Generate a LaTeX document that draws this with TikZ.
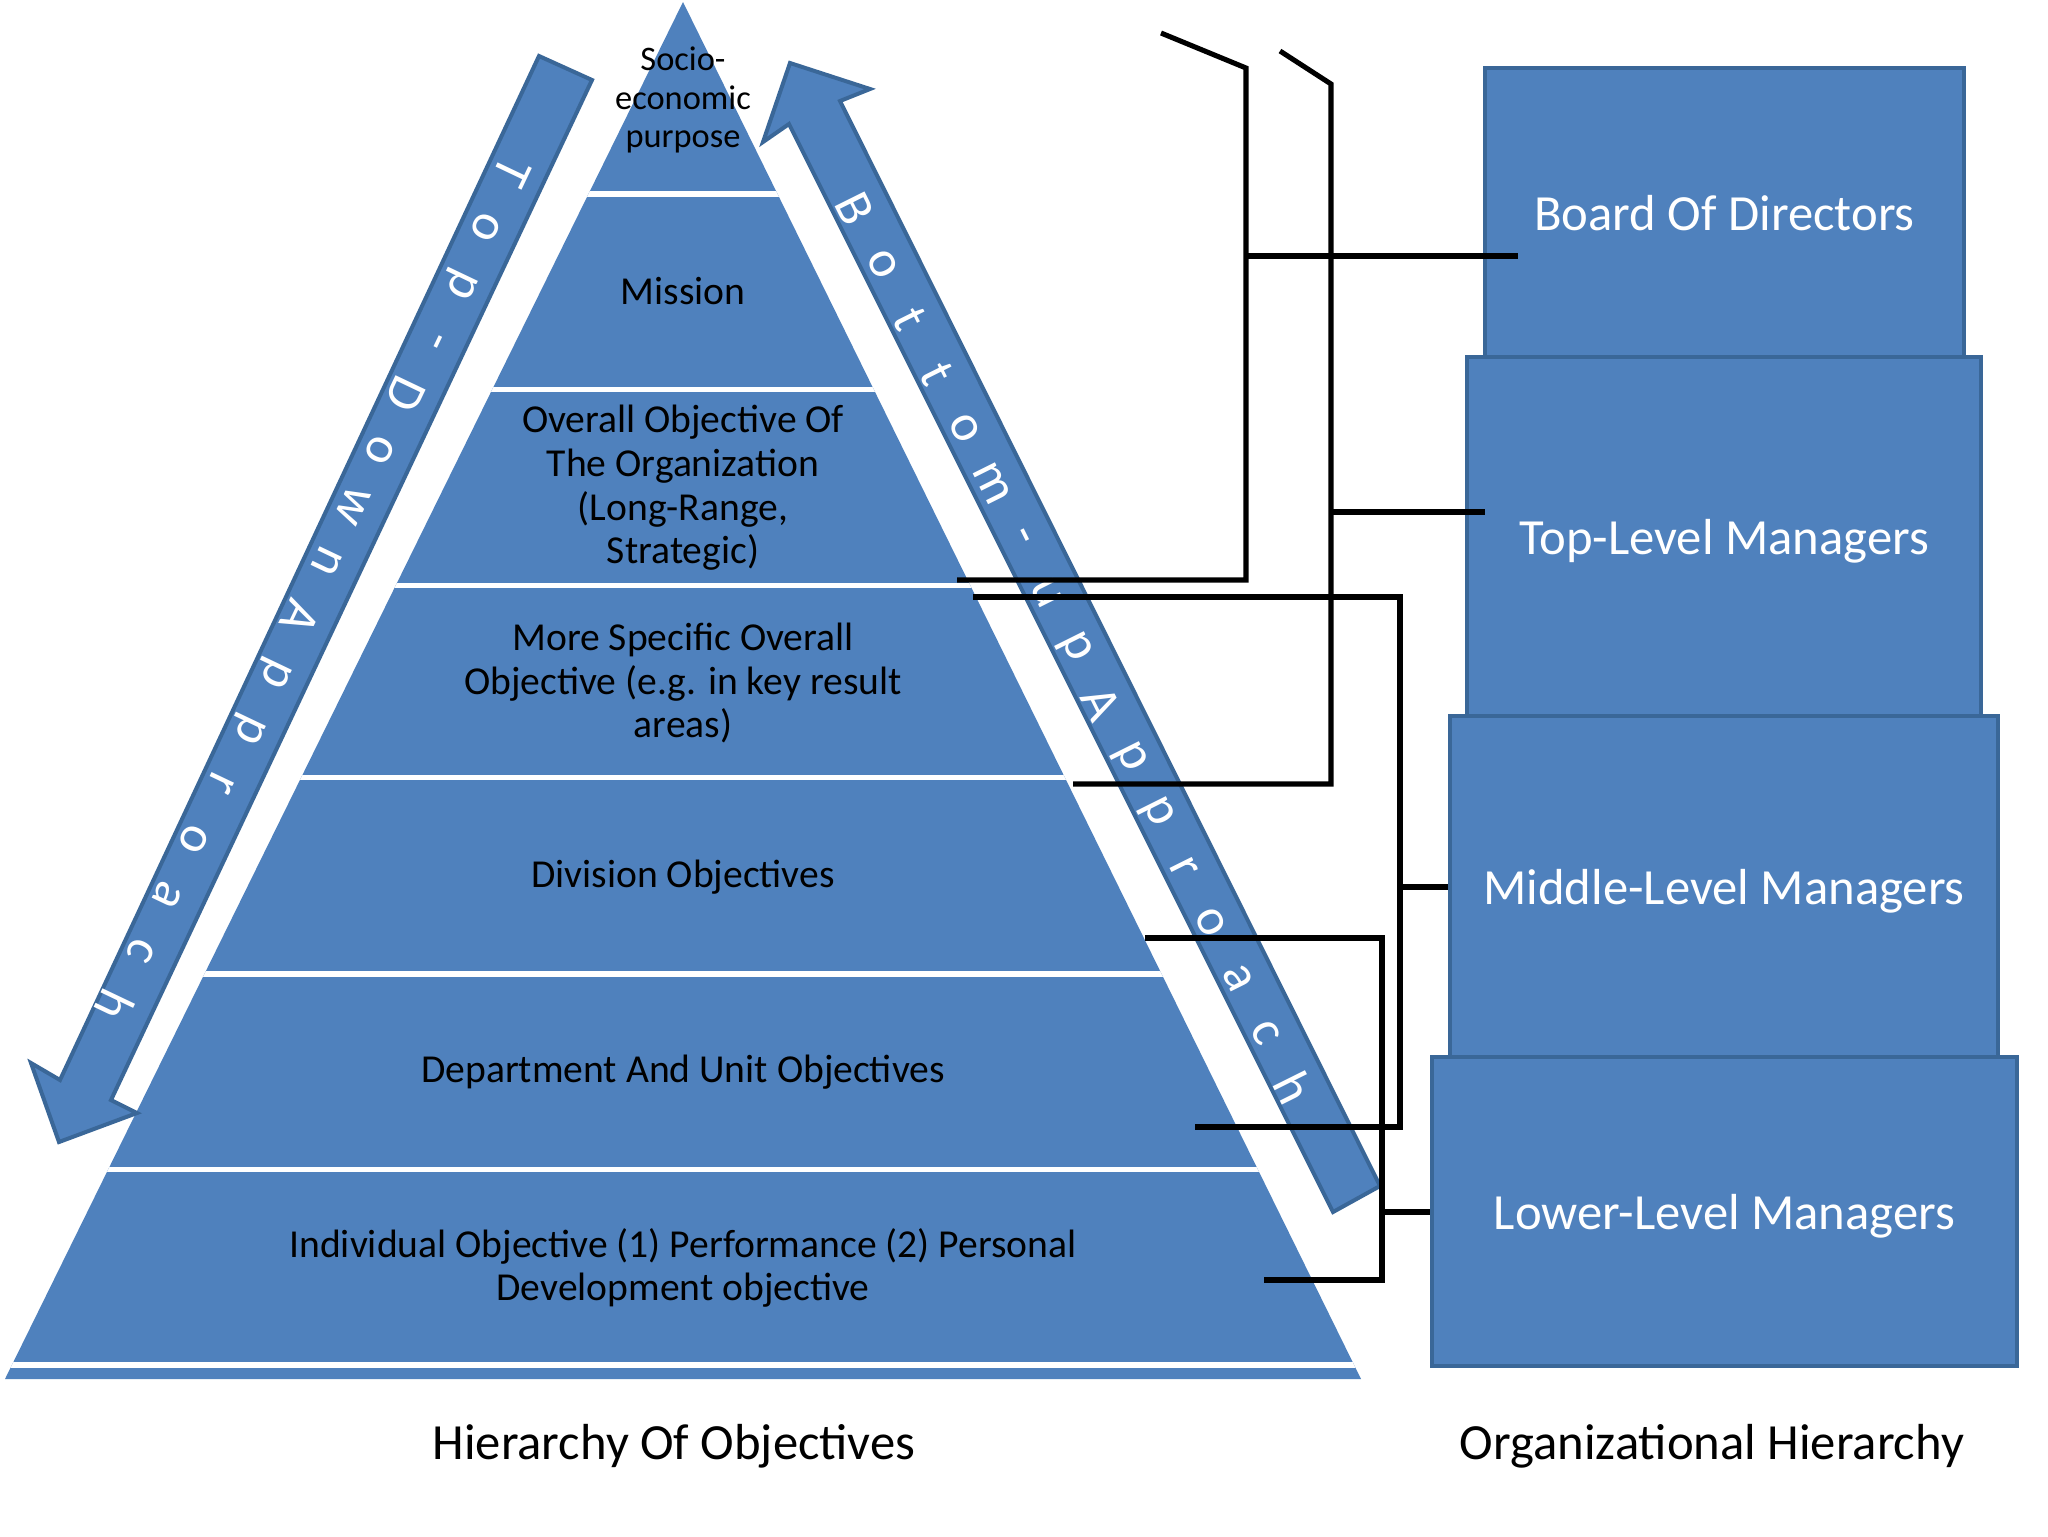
\documentclass[tikz,border=0pt]{standalone}
\usepackage{fontspec}
\setmainfont{Carlito}
\definecolor{pyr}{HTML}{4F81BD}
\definecolor{pyrdark}{HTML}{3A6798}
\begin{document}
\begin{tikzpicture}[x=0.375pt,y=-0.375pt,
  tiertext/.style={text=black, align=center, inner sep=0pt, font=\fontsize{14.85}{16.4}\selectfont},
  orgbox/.style={draw=pyrdark, fill=pyr, line width=1.4pt, text=white, inner sep=0pt, text depth=0pt, font=\fontsize{19}{22}\selectfont},
  arrowshape/.style={fill=pyr, draw=pyrdark, line width=1.5pt, line join=miter},
  arrowletter/.style={text=white, inner sep=0pt, font=\fontsize{19.5}{21}\selectfont},
  link/.style={draw=black, line width=1.9pt, line join=miter},
  caption/.style={text=black, inner sep=0pt, text depth=0pt, font=\fontsize{19}{22}\selectfont}]

\useasboundingbox (0,0) rectangle (2048,1536);
\fill[white] (0,0) rectangle (2048,1536);

% ---------- pyramid ----------
\coordinate (apex) at (683,2);
\coordinate (baseL) at (5,1379);
\coordinate (baseR) at (1361,1379);
\fill[pyr] (apex) -- (baseL) -- (baseR) -- cycle;
\begin{scope}
  \clip (apex) -- (baseL) -- (baseR) -- cycle;
  \foreach \a/\b in {191/197,387/392,583/588,775/780,971/977,1167/1172,1362/1368}
    \fill[white] (0,\a) rectangle (1400,\b);
\end{scope}

\node[tiertext, font=\fontsize{12.9}{14.3}\selectfont] (t1) at (683,100) {Socio-\\economic\\purpose};
\node[tiertext] (t2) at (683,291) {Mission};
\node[tiertext] (t3) at (683,488) {Overall Objective Of\\The Organization\\(Long-Range,\\Strategic)};
\node[tiertext] (t4) at (683,683) {More Specific Overall\\Objective (e.g. in key result\\areas)};
\node[tiertext] (t5) at (683,877) {Division Objectives};
\node[tiertext] (t6) at (683,1072) {Department And Unit Objectives};
\node[tiertext] (t7) at (683,1268) {Individual Objective (1) Performance (2) Personal\\Development objective};

% ---------- arrows ----------
\draw[arrowshape] (539,56) -- (592,80) -- (111,1100) -- (137,1113) -- (59,1142) -- (31,1063) -- (60,1080) -- cycle;
\draw[arrowshape] (1333,1212) -- (1380,1186) -- (840,101) -- (870,89) -- (790,63) -- (763,142) -- (789,124) -- cycle;

\foreach \ch [count=\i from 0] in {T,o,p,-,D,o,w,n,A,p,p,r,o,a,c,h}
  \node[arrowletter, rotate=244.5] (td\i) at ({512-26.5*\i},{172+55.6*\i}) {\ch};
\foreach \ch [count=\i from 0] in {B,o,t,t,o,m,-,u,p,A,p,p,r,o,a,c,h}
  \node[arrowletter, rotate=-63.5] (bu\i) at ({855+27.4*\i},{209+54.9*\i}) {\ch};

% ---------- organisational boxes ----------
\node[orgbox, minimum width=179.6pt, minimum height=108.4pt] (board) at (1724.5,212.5) {Board Of Directors};
\node[orgbox, minimum width=192.75pt, minimum height=134.6pt] (top) at (1724,536.5) {Top-Level Managers};
\node[orgbox, minimum width=205.5pt, minimum height=127.9pt] (middle) at (1724,886.5) {Middle-Level Managers};
\node[orgbox, minimum width=219.4pt, minimum height=115.9pt] (lower) at (1724.5,1211.5) {Lower-Level Managers};

% ---------- captions ----------
\node[caption] (cap1) at (674,1442) {Hierarchy Of Objectives};
\node[caption] (cap2) at (1712,1442) {Organizational Hierarchy};

% ---------- connectors ----------
\coordinate (l1a) at (1161,33);  \coordinate (l1b) at (1246,68);
\coordinate (l1c) at (1246,580); \coordinate (l1d) at (957,580);
\coordinate (l1j) at (1246,256); \coordinate (l1e) at (1518,256);
\coordinate (l2a) at (1280,51);  \coordinate (l2b) at (1331,84);
\coordinate (l2c) at (1331,784); \coordinate (l2d) at (1073,784);
\coordinate (l2j) at (1331,512); \coordinate (l2e) at (1485,512);
\coordinate (l3a) at (973,597);  \coordinate (l3b) at (1400,597);
\coordinate (l3c) at (1400,1127); \coordinate (l3d) at (1195,1127);
\coordinate (l3j) at (1400,887); \coordinate (l3e) at (middle.west |- 0,887);
\coordinate (l4a) at (1145,938); \coordinate (l4b) at (1382,938);
\coordinate (l4c) at (1382,1280); \coordinate (l4d) at (1264,1280);
\coordinate (l4j) at (1382,1212); \coordinate (l4e) at (lower.west |- 0,1212);

\draw[link] (l1a) -- (l1b) -- (l1c) -- (l1d);
\draw[link] (l1j) -- (l1e);
\draw[link] (l2a) -- (l2b) -- (l2c) -- (l2d);
\draw[link] (l2j) -- (l2e);
\draw[link] (l3a) -- (l3b) -- (l3c) -- (l3d);
\draw[link] (l3j) -- (l3e);
\draw[link] (l4a) -- (l4b) -- (l4c) -- (l4d);
\draw[link] (l4j) -- (l4e);
\end{tikzpicture}
\end{document}
